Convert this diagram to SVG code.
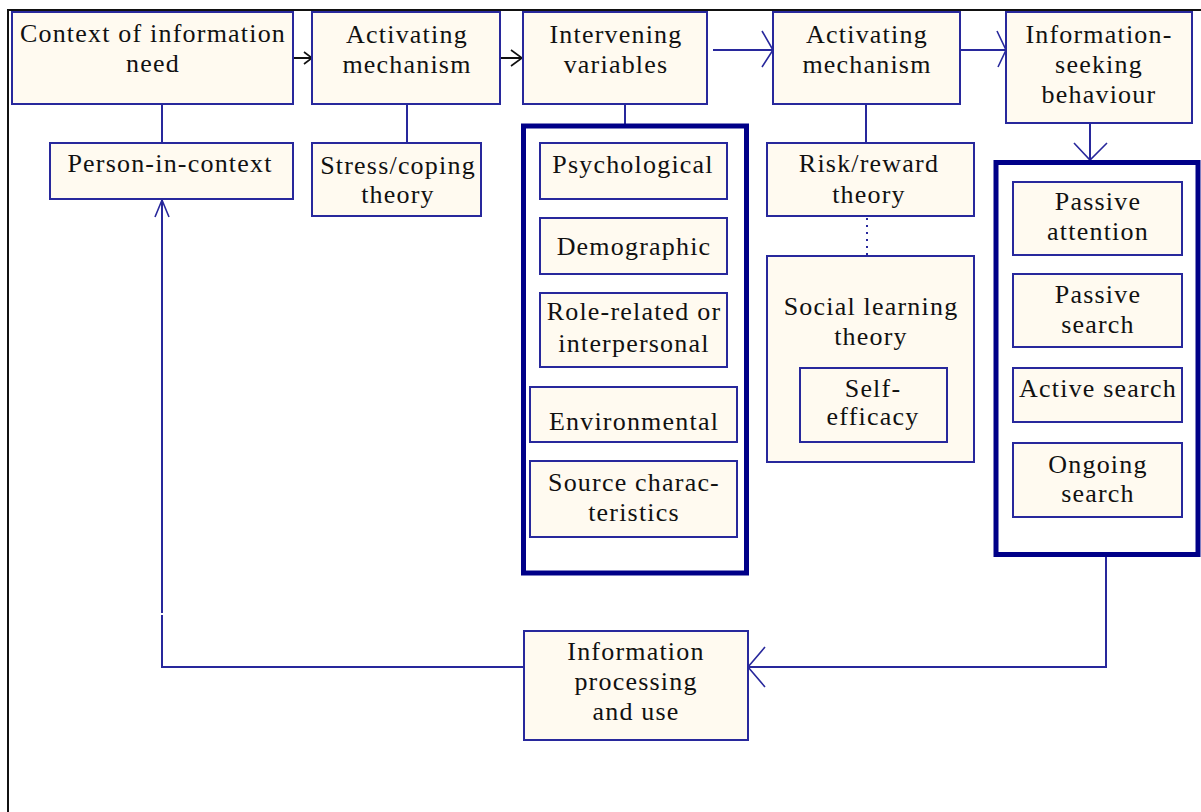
<svg xmlns="http://www.w3.org/2000/svg" width="1201" height="812" viewBox="0 0 1201 812">
  <style>
    .box { fill: #FFFAF0; stroke: #28289C; stroke-width: 2; }
    .group { fill: #FFFFFF; stroke: #000088; stroke-width: 5; }
    .lbl { font-family: "Liberation Serif", "DejaVu Serif", "Times New Roman", serif; font-size: 26px; letter-spacing: 1.2px; fill: #111; text-anchor: middle; }
    .wire { fill: none; stroke: #28289C; stroke-width: 2; }
    .head { fill: none; stroke: #28289C; stroke-width: 1.6; }
    .headk { fill: none; stroke: #111; stroke-width: 1.6; }
    .frame { fill: none; stroke: #111; stroke-width: 2; }
  </style>

  <rect x="0" y="0" width="1201" height="812" fill="#FFFFFF"/>

  <!-- outer frame -->
  <path class="frame" d="M8,812 V10 H1201"/>

  <!-- connectors -->
  <g id="connectors">
    <!-- Context -> Activating mechanism -->
    <line class="wire" x1="293" y1="58" x2="312" y2="58" style="stroke:#111"/>
    <polyline class="headk" points="304,52 312,58 304,64"/>
    <!-- Activating mechanism -> Intervening variables -->
    <line class="wire" x1="500" y1="58" x2="522" y2="58" style="stroke:#111"/>
    <polyline class="headk" points="511,50 522,58 511,66"/>
    <!-- Intervening variables -> Activating mechanism -->
    <line class="wire" x1="713" y1="50" x2="773" y2="50"/>
    <polyline class="head" points="762,31 773,50 762,67"/>
    <!-- Activating mechanism -> Information-seeking behaviour -->
    <line class="wire" x1="960" y1="50" x2="1006" y2="50"/>
    <polyline class="head" points="997,31 1006,50 998,67"/>
    <!-- Information-seeking behaviour -> behaviour types -->
    <line class="wire" x1="1090" y1="123" x2="1090" y2="160"/>
    <polyline class="head" points="1074,143 1090,160 1107,143"/>
    <!-- behaviour types -> Information processing and use -->
    <polyline class="wire" points="1106,557 1106,667 748,667"/>
    <polyline class="head" points="765,647 748,667 765,687"/>
    <!-- Information processing and use -> Person-in-context -->
    <polyline class="wire" points="524,667 162,667 162,615"/>
    <line class="wire" x1="162" y1="613" x2="162" y2="200"/>
    <polyline class="head" points="155,217 162,200 169,217"/>
    <!-- theory links -->
    <line class="wire" x1="162" y1="104" x2="162" y2="143"/>
    <line class="wire" x1="407" y1="104" x2="407" y2="143"/>
    <line class="wire" x1="625" y1="104" x2="625" y2="124"/>
    <line class="wire" x1="866" y1="104" x2="866" y2="143"/>
    <line class="wire" x1="867" y1="218" x2="867" y2="255" style="stroke-dasharray:2 5"/>
  </g>

  <g id="context">
    <rect class="box" x="12" y="12" width="281" height="92"/>
    <text class="lbl" x="153" y="42">Context of information</text>
    <text class="lbl" x="153" y="72">need</text>
  </g>
  <g id="person-in-context">
    <rect class="box" x="50" y="143" width="243" height="56"/>
    <text class="lbl" x="170" y="172">Person-in-context</text>
  </g>

  <g id="activating-1">
    <rect class="box" x="312" y="12" width="188" height="92"/>
    <text class="lbl" x="407" y="43">Activating</text>
    <text class="lbl" x="407" y="73">mechanism</text>
  </g>
  <g id="stress-coping">
    <rect class="box" x="312" y="143" width="169" height="73"/>
    <text class="lbl" x="398" y="174">Stress/coping</text>
    <text class="lbl" x="398" y="203">theory</text>
  </g>

  <g id="intervening">
    <rect class="box" x="523" y="12" width="184" height="92"/>
    <text class="lbl" x="616" y="43">Intervening</text>
    <text class="lbl" x="616" y="73">variables</text>
  </g>
  <g id="intervening-group">
    <rect class="group" x="523.5" y="126" width="223" height="447"/>
  </g>
  <g id="psychological">
    <rect class="box" x="540" y="143" width="187" height="56"/>
    <text class="lbl" x="633" y="173">Psychological</text>
  </g>
  <g id="demographic">
    <rect class="box" x="540" y="218" width="187" height="56"/>
    <text class="lbl" x="634" y="255">Demographic</text>
  </g>
  <g id="role-related">
    <rect class="box" x="540" y="293" width="187" height="74"/>
    <text class="lbl" x="634" y="320">Role-related or</text>
    <text class="lbl" x="634" y="352">interpersonal</text>
  </g>
  <g id="environmental">
    <rect class="box" x="530" y="387" width="207" height="55"/>
    <text class="lbl" x="634" y="430">Environmental</text>
  </g>
  <g id="source">
    <rect class="box" x="530" y="461" width="207" height="76"/>
    <text class="lbl" x="634" y="491">Source charac-</text>
    <text class="lbl" x="634" y="521">teristics</text>
  </g>

  <g id="activating-2">
    <rect class="box" x="773" y="12" width="187" height="92"/>
    <text class="lbl" x="867" y="43">Activating</text>
    <text class="lbl" x="867" y="73">mechanism</text>
  </g>
  <g id="risk-reward">
    <rect class="box" x="767" y="143" width="207" height="73"/>
    <text class="lbl" x="869" y="172">Risk/reward</text>
    <text class="lbl" x="869" y="203">theory</text>
  </g>
  <g id="social-learning">
    <rect class="box" x="767" y="256" width="207" height="206"/>
    <text class="lbl" x="871" y="315">Social learning</text>
    <text class="lbl" x="871" y="345">theory</text>
  </g>
  <g id="self-efficacy">
    <rect class="box" x="800" y="368" width="147" height="74"/>
    <text class="lbl" x="873" y="397">Self-</text>
    <text class="lbl" x="873" y="425">efficacy</text>
  </g>

  <g id="info-seeking">
    <rect class="box" x="1006" y="12" width="186" height="111"/>
    <text class="lbl" x="1099" y="43">Information-</text>
    <text class="lbl" x="1099" y="73">seeking</text>
    <text class="lbl" x="1099" y="103">behaviour</text>
  </g>
  <g id="behaviour-group">
    <rect class="group" x="996" y="162.5" width="202" height="392"/>
  </g>
  <g id="passive-attention">
    <rect class="box" x="1013" y="182" width="169" height="73"/>
    <text class="lbl" x="1098" y="210">Passive</text>
    <text class="lbl" x="1098" y="240">attention</text>
  </g>
  <g id="passive-search">
    <rect class="box" x="1013" y="274" width="169" height="73"/>
    <text class="lbl" x="1098" y="303">Passive</text>
    <text class="lbl" x="1098" y="333">search</text>
  </g>
  <g id="active-search">
    <rect class="box" x="1013" y="368" width="169" height="54"/>
    <text class="lbl" x="1098" y="397">Active search</text>
  </g>
  <g id="ongoing-search">
    <rect class="box" x="1013" y="443" width="169" height="74"/>
    <text class="lbl" x="1098" y="473">Ongoing</text>
    <text class="lbl" x="1098" y="502">search</text>
  </g>

  <g id="processing">
    <rect class="box" x="524" y="631" width="224" height="109"/>
    <text class="lbl" x="636" y="660">Information</text>
    <text class="lbl" x="636" y="690">processing</text>
    <text class="lbl" x="636" y="720">and use</text>
  </g>
</svg>
